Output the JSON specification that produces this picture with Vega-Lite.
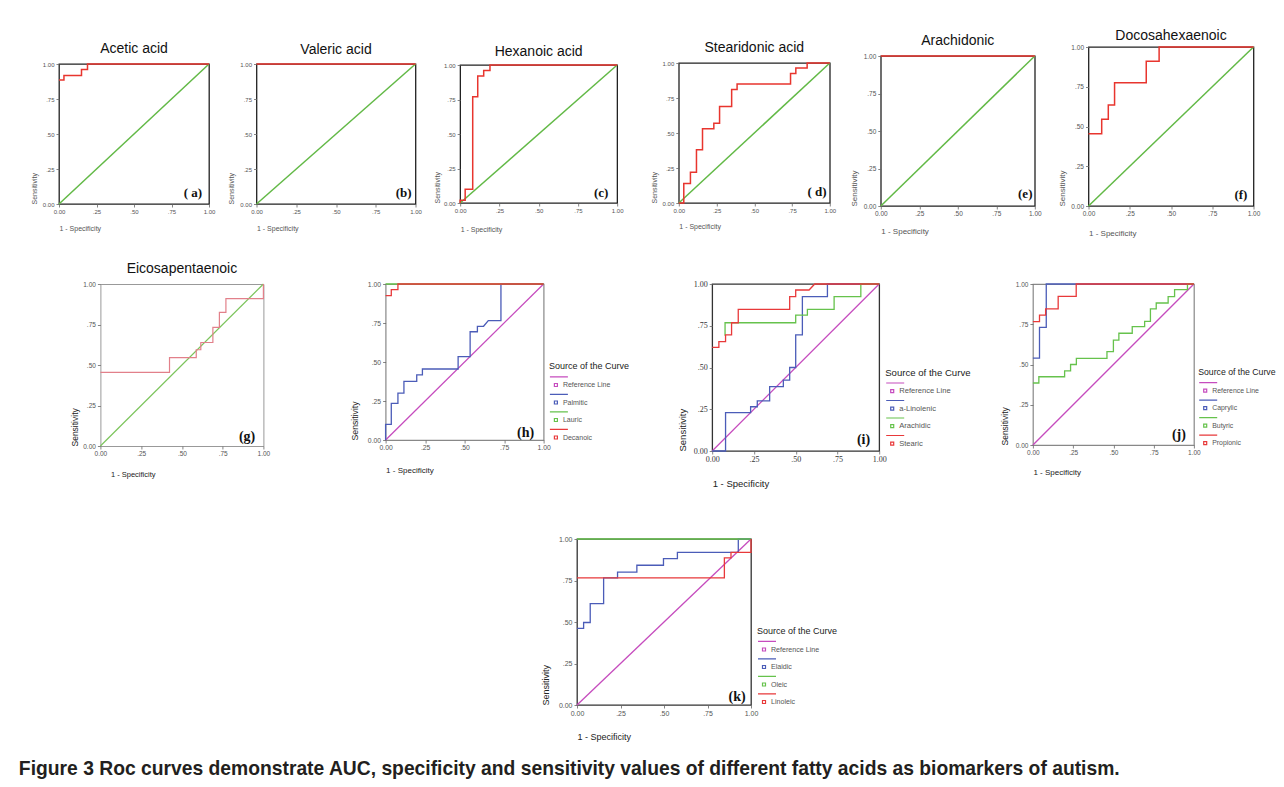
{
"$schema": "https://vega.github.io/schema/vega-lite/v6.json",
"background": "white",
"padding": {"left": 18, "top": 28, "right": 2, "bottom": 2},
"title": {"text": "Figure 3 Roc curves demonstrate AUC, specificity and sensitivity values of different fatty acids as biomarkers of autism.", "orient": "bottom", "anchor": "start", "fontSize": 19.3, "font": "Liberation Sans", "fontWeight": "bold", "color": "#231f20", "offset": 18, "dx": -11},
"config": {
 "font": "Liberation Sans",
 "view": {"stroke": "#222", "strokeWidth": 1.3},
 "axis": {"grid": false, "domain": false, "labelFlush": false, "labelOverlap": false, "labelBound": false, "tickCount": 10,
   "labelExpr": "datum.value == 0 ? '0.00' : datum.value == 1 ? '1.00' : datum.value == 0.25 ? '.25' : datum.value == 0.5 ? '.50' : '.75'",
   "labelFont": "Liberation Sans", "labelFontSize": 6, "labelColor": "#555", "labelPadding": 1, "tickSize": 3, "tickColor": "#666", "tickWidth": 0.8,
   "titleFont": "Liberation Sans", "titleFontWeight": "normal", "titleFontSize": 7, "titleColor": "#555"},
 "axisX": {"titleAnchor": "start", "titleAlign": "left", "labelAngle": 0},
 "axisY": {"titleAnchor": "start", "labelPadding": 2},
 "title": {"fontSize": 14, "fontWeight": "normal", "font": "Liberation Sans", "color": "#111", "anchor": "middle"},
 "legend": {"titleFontWeight": "normal", "titleColor": "#222", "titleFont": "Liberation Sans", "labelFont": "Liberation Sans", "labelColor": "#555", "symbolType": "M-1,-1.35H2M-0.25,-0.25H0.25V0.25H-0.25Z", "symbolSize": 144, "symbolStrokeWidth": 1.2, "labelOffset": 0, "rowPadding": 2.5, "titlePadding": 7, "padding": 0}
},
"datasets": {
 "a": [{"s":"ref","o":0,"x":0,"y":0},{"s":"ref","o":1,"x":1,"y":1},
  {"s":"roc","o":0,"x":0,"y":0.885},{"s":"roc","o":1,"x":0.033,"y":0.885},{"s":"roc","o":2,"x":0.033,"y":0.917},{"s":"roc","o":3,"x":0.15,"y":0.917},{"s":"roc","o":4,"x":0.15,"y":0.96},{"s":"roc","o":5,"x":0.19,"y":0.96},{"s":"roc","o":6,"x":0.19,"y":1},{"s":"roc","o":7,"x":1,"y":1}],
 "b": [{"s":"ref","o":0,"x":0,"y":0},{"s":"ref","o":1,"x":1,"y":1},
  {"s":"roc","o":0,"x":0,"y":1},{"s":"roc","o":1,"x":1,"y":1}],
 "c": [{"s":"ref","o":0,"x":0,"y":0},{"s":"ref","o":1,"x":1,"y":1},
  {"s":"roc","o":0,"x":0,"y":0},{"s":"roc","o":1,"x":0,"y":0.02},{"s":"roc","o":2,"x":0.032,"y":0.02},{"s":"roc","o":3,"x":0.032,"y":0.1},{"s":"roc","o":4,"x":0.08,"y":0.1},{"s":"roc","o":5,"x":0.08,"y":0.77},{"s":"roc","o":6,"x":0.112,"y":0.77},{"s":"roc","o":7,"x":0.112,"y":0.92},{"s":"roc","o":8,"x":0.15,"y":0.92},{"s":"roc","o":9,"x":0.15,"y":0.96},{"s":"roc","o":10,"x":0.19,"y":0.96},{"s":"roc","o":11,"x":0.19,"y":1},{"s":"roc","o":12,"x":1,"y":1}],
 "d": [{"s":"ref","o":0,"x":0,"y":0},{"s":"ref","o":1,"x":1,"y":1},
  {"s":"roc","o":0,"x":0,"y":0},{"s":"roc","o":1,"x":0.033,"y":0},{"s":"roc","o":2,"x":0.033,"y":0.14},{"s":"roc","o":3,"x":0.077,"y":0.14},{"s":"roc","o":4,"x":0.077,"y":0.22},{"s":"roc","o":5,"x":0.117,"y":0.22},{"s":"roc","o":6,"x":0.117,"y":0.38},{"s":"roc","o":7,"x":0.157,"y":0.38},{"s":"roc","o":8,"x":0.157,"y":0.53},{"s":"roc","o":9,"x":0.232,"y":0.53},{"s":"roc","o":10,"x":0.232,"y":0.57},{"s":"roc","o":11,"x":0.27,"y":0.57},{"s":"roc","o":12,"x":0.27,"y":0.69},{"s":"roc","o":13,"x":0.35,"y":0.69},{"s":"roc","o":14,"x":0.35,"y":0.81},{"s":"roc","o":15,"x":0.386,"y":0.81},{"s":"roc","o":16,"x":0.386,"y":0.85},{"s":"roc","o":17,"x":0.74,"y":0.85},{"s":"roc","o":18,"x":0.74,"y":0.925},{"s":"roc","o":19,"x":0.775,"y":0.925},{"s":"roc","o":20,"x":0.775,"y":0.965},{"s":"roc","o":21,"x":0.85,"y":0.965},{"s":"roc","o":22,"x":0.85,"y":1},{"s":"roc","o":23,"x":1,"y":1}],
 "e": [{"s":"ref","o":0,"x":0,"y":0},{"s":"ref","o":1,"x":1,"y":1},
  {"s":"roc","o":0,"x":0,"y":1},{"s":"roc","o":1,"x":1,"y":1}],
 "f": [{"s":"ref","o":0,"x":0,"y":0},{"s":"ref","o":1,"x":1,"y":1},
  {"s":"roc","o":0,"x":0,"y":0.455},{"s":"roc","o":1,"x":0.08,"y":0.455},{"s":"roc","o":2,"x":0.08,"y":0.545},{"s":"roc","o":3,"x":0.12,"y":0.545},{"s":"roc","o":4,"x":0.12,"y":0.635},{"s":"roc","o":5,"x":0.158,"y":0.635},{"s":"roc","o":6,"x":0.158,"y":0.775},{"s":"roc","o":7,"x":0.35,"y":0.775},{"s":"roc","o":8,"x":0.35,"y":0.91},{"s":"roc","o":9,"x":0.428,"y":0.91},{"s":"roc","o":10,"x":0.428,"y":1},{"s":"roc","o":11,"x":1,"y":1}],
 "g": [{"s":"ref","o":0,"x":0,"y":0},{"s":"ref","o":1,"x":1,"y":1},
  {"s":"roc","o":0,"x":0,"y":0.455},{"s":"roc","o":1,"x":0.424,"y":0.455},{"s":"roc","o":2,"x":0.424,"y":0.546},{"s":"roc","o":3,"x":0.588,"y":0.546},{"s":"roc","o":4,"x":0.588,"y":0.594},{"s":"roc","o":5,"x":0.616,"y":0.594},{"s":"roc","o":6,"x":0.616,"y":0.639},{"s":"roc","o":7,"x":0.69,"y":0.639},{"s":"roc","o":8,"x":0.69,"y":0.732},{"s":"roc","o":9,"x":0.73,"y":0.732},{"s":"roc","o":10,"x":0.73,"y":0.825},{"s":"roc","o":11,"x":0.77,"y":0.825},{"s":"roc","o":12,"x":0.77,"y":0.91},{"s":"roc","o":13,"x":1,"y":0.91},{"s":"roc","o":14,"x":1,"y":1}],
 "h": [{"s":"Reference Line","o":0,"x":0,"y":0},{"s":"Reference Line","o":1,"x":1,"y":1},
  {"s":"Palmitic","o":0,"x":0,"y":0},{"s":"Palmitic","o":1,"x":0,"y":0.1},{"s":"Palmitic","o":2,"x":0.036,"y":0.1},{"s":"Palmitic","o":3,"x":0.036,"y":0.235},{"s":"Palmitic","o":4,"x":0.078,"y":0.235},{"s":"Palmitic","o":5,"x":0.078,"y":0.3},{"s":"Palmitic","o":6,"x":0.116,"y":0.3},{"s":"Palmitic","o":7,"x":0.116,"y":0.376},{"s":"Palmitic","o":8,"x":0.197,"y":0.376},{"s":"Palmitic","o":9,"x":0.197,"y":0.417},{"s":"Palmitic","o":10,"x":0.233,"y":0.417},{"s":"Palmitic","o":11,"x":0.233,"y":0.455},{"s":"Palmitic","o":12,"x":0.459,"y":0.455},{"s":"Palmitic","o":13,"x":0.459,"y":0.534},{"s":"Palmitic","o":14,"x":0.535,"y":0.534},{"s":"Palmitic","o":15,"x":0.535,"y":0.694},{"s":"Palmitic","o":16,"x":0.581,"y":0.694},{"s":"Palmitic","o":17,"x":0.581,"y":0.729},{"s":"Palmitic","o":18,"x":0.62,"y":0.729},{"s":"Palmitic","o":19,"x":0.65,"y":0.765},{"s":"Palmitic","o":20,"x":0.73,"y":0.765},{"s":"Palmitic","o":21,"x":0.73,"y":1},{"s":"Palmitic","o":22,"x":1,"y":1},
  {"s":"Lauric","o":0,"x":0,"y":1},{"s":"Lauric","o":1,"x":1,"y":1},
  {"s":"Decanoic","o":0,"x":0,"y":0.925},{"s":"Decanoic","o":1,"x":0.036,"y":0.925},{"s":"Decanoic","o":2,"x":0.036,"y":0.964},{"s":"Decanoic","o":3,"x":0.078,"y":0.964},{"s":"Decanoic","o":4,"x":0.078,"y":1},{"s":"Decanoic","o":5,"x":1,"y":1}],
 "i": [{"s":"Reference Line","o":0,"x":0,"y":0},{"s":"Reference Line","o":1,"x":1,"y":1},
  {"s":"a-Linolenic","o":0,"x":0,"y":0},{"s":"a-Linolenic","o":1,"x":0.08,"y":0},{"s":"a-Linolenic","o":2,"x":0.08,"y":0.23},{"s":"a-Linolenic","o":3,"x":0.23,"y":0.23},{"s":"a-Linolenic","o":4,"x":0.23,"y":0.265},{"s":"a-Linolenic","o":5,"x":0.27,"y":0.265},{"s":"a-Linolenic","o":6,"x":0.27,"y":0.3},{"s":"a-Linolenic","o":7,"x":0.344,"y":0.3},{"s":"a-Linolenic","o":8,"x":0.344,"y":0.385},{"s":"a-Linolenic","o":9,"x":0.426,"y":0.385},{"s":"a-Linolenic","o":10,"x":0.426,"y":0.425},{"s":"a-Linolenic","o":11,"x":0.464,"y":0.425},{"s":"a-Linolenic","o":12,"x":0.464,"y":0.5},{"s":"a-Linolenic","o":13,"x":0.5,"y":0.5},{"s":"a-Linolenic","o":14,"x":0.5,"y":0.695},{"s":"a-Linolenic","o":15,"x":0.54,"y":0.695},{"s":"a-Linolenic","o":16,"x":0.54,"y":0.924},{"s":"a-Linolenic","o":17,"x":0.69,"y":0.924},{"s":"a-Linolenic","o":18,"x":0.69,"y":1},{"s":"a-Linolenic","o":19,"x":1,"y":1},
  {"s":"Arachidic","o":0,"x":0.077,"y":0.69},{"s":"Arachidic","o":1,"x":0.077,"y":0.768},{"s":"Arachidic","o":2,"x":0.5,"y":0.768},{"s":"Arachidic","o":3,"x":0.5,"y":0.814},{"s":"Arachidic","o":4,"x":0.57,"y":0.814},{"s":"Arachidic","o":5,"x":0.57,"y":0.848},{"s":"Arachidic","o":6,"x":0.73,"y":0.848},{"s":"Arachidic","o":7,"x":0.73,"y":0.924},{"s":"Arachidic","o":8,"x":0.89,"y":0.924},{"s":"Arachidic","o":9,"x":0.89,"y":1},{"s":"Arachidic","o":10,"x":1,"y":1},
  {"s":"Stearic","o":0,"x":0,"y":0.62},{"s":"Stearic","o":1,"x":0.04,"y":0.62},{"s":"Stearic","o":2,"x":0.04,"y":0.655},{"s":"Stearic","o":3,"x":0.08,"y":0.655},{"s":"Stearic","o":4,"x":0.08,"y":0.695},{"s":"Stearic","o":5,"x":0.116,"y":0.695},{"s":"Stearic","o":6,"x":0.116,"y":0.768},{"s":"Stearic","o":7,"x":0.156,"y":0.768},{"s":"Stearic","o":8,"x":0.156,"y":0.848},{"s":"Stearic","o":9,"x":0.464,"y":0.848},{"s":"Stearic","o":10,"x":0.464,"y":0.924},{"s":"Stearic","o":11,"x":0.5,"y":0.924},{"s":"Stearic","o":12,"x":0.5,"y":0.964},{"s":"Stearic","o":13,"x":0.58,"y":0.964},{"s":"Stearic","o":14,"x":0.614,"y":1},{"s":"Stearic","o":15,"x":1,"y":1}],
 "j": [{"s":"Reference Line","o":0,"x":0,"y":0},{"s":"Reference Line","o":1,"x":1,"y":1},
  {"s":"Caprylic","o":0,"x":0,"y":0.54},{"s":"Caprylic","o":1,"x":0.041,"y":0.54},{"s":"Caprylic","o":2,"x":0.041,"y":0.73},{"s":"Caprylic","o":3,"x":0.083,"y":0.73},{"s":"Caprylic","o":4,"x":0.083,"y":1},{"s":"Caprylic","o":5,"x":1,"y":1},
  {"s":"Butyric","o":0,"x":0,"y":0.385},{"s":"Butyric","o":1,"x":0.037,"y":0.385},{"s":"Butyric","o":2,"x":0.037,"y":0.424},{"s":"Butyric","o":3,"x":0.197,"y":0.424},{"s":"Butyric","o":4,"x":0.197,"y":0.46},{"s":"Butyric","o":5,"x":0.234,"y":0.46},{"s":"Butyric","o":6,"x":0.234,"y":0.5},{"s":"Butyric","o":7,"x":0.27,"y":0.5},{"s":"Butyric","o":8,"x":0.27,"y":0.538},{"s":"Butyric","o":9,"x":0.46,"y":0.538},{"s":"Butyric","o":10,"x":0.46,"y":0.58},{"s":"Butyric","o":11,"x":0.5,"y":0.58},{"s":"Butyric","o":12,"x":0.5,"y":0.652},{"s":"Butyric","o":13,"x":0.534,"y":0.652},{"s":"Butyric","o":14,"x":0.534,"y":0.694},{"s":"Butyric","o":15,"x":0.617,"y":0.694},{"s":"Butyric","o":16,"x":0.617,"y":0.735},{"s":"Butyric","o":17,"x":0.694,"y":0.735},{"s":"Butyric","o":18,"x":0.694,"y":0.768},{"s":"Butyric","o":19,"x":0.73,"y":0.768},{"s":"Butyric","o":20,"x":0.73,"y":0.845},{"s":"Butyric","o":21,"x":0.766,"y":0.845},{"s":"Butyric","o":22,"x":0.766,"y":0.882},{"s":"Butyric","o":23,"x":0.84,"y":0.882},{"s":"Butyric","o":24,"x":0.84,"y":0.921},{"s":"Butyric","o":25,"x":0.88,"y":0.921},{"s":"Butyric","o":26,"x":0.88,"y":0.965},{"s":"Butyric","o":27,"x":0.96,"y":0.965},{"s":"Butyric","o":28,"x":0.96,"y":1},{"s":"Butyric","o":29,"x":1,"y":1},
  {"s":"Propionic","o":0,"x":0,"y":0.766},{"s":"Propionic","o":1,"x":0.041,"y":0.766},{"s":"Propionic","o":2,"x":0.041,"y":0.807},{"s":"Propionic","o":3,"x":0.079,"y":0.807},{"s":"Propionic","o":4,"x":0.079,"y":0.845},{"s":"Propionic","o":5,"x":0.157,"y":0.845},{"s":"Propionic","o":6,"x":0.157,"y":0.923},{"s":"Propionic","o":7,"x":0.269,"y":0.923},{"s":"Propionic","o":8,"x":0.269,"y":1},{"s":"Propionic","o":9,"x":1,"y":1}],
 "k": [{"s":"Reference Line","o":0,"x":0,"y":0},{"s":"Reference Line","o":1,"x":1,"y":1},
  {"s":"Elaidic","o":0,"x":0,"y":0.461},{"s":"Elaidic","o":1,"x":0.038,"y":0.461},{"s":"Elaidic","o":2,"x":0.038,"y":0.497},{"s":"Elaidic","o":3,"x":0.076,"y":0.497},{"s":"Elaidic","o":4,"x":0.076,"y":0.611},{"s":"Elaidic","o":5,"x":0.153,"y":0.611},{"s":"Elaidic","o":6,"x":0.153,"y":0.766},{"s":"Elaidic","o":7,"x":0.233,"y":0.766},{"s":"Elaidic","o":8,"x":0.233,"y":0.8},{"s":"Elaidic","o":9,"x":0.344,"y":0.8},{"s":"Elaidic","o":10,"x":0.344,"y":0.842},{"s":"Elaidic","o":11,"x":0.497,"y":0.842},{"s":"Elaidic","o":12,"x":0.497,"y":0.882},{"s":"Elaidic","o":13,"x":0.577,"y":0.882},{"s":"Elaidic","o":14,"x":0.577,"y":0.92},{"s":"Elaidic","o":15,"x":0.927,"y":0.92},{"s":"Elaidic","o":16,"x":0.927,"y":1},{"s":"Elaidic","o":17,"x":1,"y":1},
  {"s":"Oleic","o":0,"x":0,"y":1},{"s":"Oleic","o":1,"x":1,"y":1},
  {"s":"Linoleic","o":0,"x":0,"y":0.766},{"s":"Linoleic","o":1,"x":0.847,"y":0.766},{"s":"Linoleic","o":2,"x":0.847,"y":0.886},{"s":"Linoleic","o":3,"x":0.885,"y":0.886},{"s":"Linoleic","o":4,"x":0.885,"y":0.92},{"s":"Linoleic","o":5,"x":1,"y":0.92},{"s":"Linoleic","o":6,"x":1,"y":1}]
},
"spacing": 23,
"resolve": {"scale": {"color": "independent"}, "legend": {"color": "independent"}},
"vconcat": [
 {"spacing": 9.5, "resolve": {"scale": {"color": "independent"}, "legend": {"color": "independent"}}, "hconcat": [
  {"spacing": 0, "bounds": "flush", "resolve": {"scale": {"color": "independent"}, "legend": {"color": "independent"}}, "vconcat": [
   {"width": 1, "height": 17, "view": {"stroke": null}, "data": {"values": [{"t": ""}]}, "mark": {"type": "text"}, "encoding": {"text": {"field": "t"}}},
   {"width": 150, "height": 140, "title": {"text": "Acetic acid", "offset": 5},
    "layer": [
     {"data": {"name": "a"}, "mark": {"type": "line", "strokeWidth": 1.5},
      "encoding": {"x": {"field": "x", "type": "quantitative", "scale": {"domain": [0, 1], "nice": false, "zero": false}, "axis": {"values": [0, 0.25, 0.5, 0.75, 1], "tickCount": 10, "labelOverlap": false, "title": "1 - Specificity", "titlePadding": 10.5}},
       "y": {"field": "y", "type": "quantitative", "scale": {"domain": [0, 1], "nice": false, "zero": false}, "axis": {"values": [0, 0.25, 0.5, 0.75, 1], "tickCount": 10, "labelOverlap": false, "title": "Sensitivity", "titlePadding": 4.8}},
       "color": {"field": "s", "type": "nominal", "scale": {"domain": ["ref", "roc"], "range": ["#62b946", "#e8352e"]}, "legend": null},
       "order": {"field": "o", "type": "quantitative"}}},
     {"data": {"values": [{"t": "( a)"}]}, "mark": {"type": "text", "font": "Liberation Serif", "fontWeight": "bold", "fontSize": 13, "color": "#111"},
      "encoding": {"x": {"datum": 0.893}, "y": {"datum": 0.079}, "text": {"field": "t"}}}
    ]}
  ]},
  {"spacing": 9.65, "resolve": {"scale": {"color": "independent"}, "legend": {"color": "independent"}}, "hconcat": [
   {"spacing": 0, "bounds": "flush", "resolve": {"scale": {"color": "independent"}, "legend": {"color": "independent"}}, "vconcat": [
    {"width": 1, "height": 17, "view": {"stroke": null}, "data": {"values": [{"t": ""}]}, "mark": {"type": "text"}, "encoding": {"text": {"field": "t"}}},
    {"width": 159, "height": 140, "title": {"text": "Valeric acid", "offset": 4.5},
     "layer": [
      {"data": {"name": "b"}, "mark": {"type": "line", "strokeWidth": 1.5},
       "encoding": {"x": {"field": "x", "type": "quantitative", "scale": {"domain": [0, 1], "nice": false, "zero": false}, "axis": {"values": [0, 0.25, 0.5, 0.75, 1], "tickCount": 10, "labelOverlap": false, "title": "1 - Specificity", "titlePadding": 10}},
        "y": {"field": "y", "type": "quantitative", "scale": {"domain": [0, 1], "nice": false, "zero": false}, "axis": {"values": [0, 0.25, 0.5, 0.75, 1], "tickCount": 10, "labelOverlap": false, "title": "Sensitivity", "titlePadding": 5.8}},
        "color": {"field": "s", "type": "nominal", "scale": {"domain": ["ref", "roc"], "range": ["#62b946", "#e8352e"]}, "legend": null},
        "order": {"field": "o", "type": "quantitative"}}},
      {"data": {"values": [{"t": "(b)"}]}, "mark": {"type": "text", "font": "Liberation Serif", "fontWeight": "bold", "fontSize": 13, "color": "#111"},
       "encoding": {"x": {"datum": 0.925}, "y": {"datum": 0.079}, "text": {"field": "t"}}}
     ]}
   ]},
   {"spacing": 24.65, "resolve": {"scale": {"color": "independent"}, "legend": {"color": "independent"}}, "hconcat": [
    {"spacing": 0, "bounds": "flush", "resolve": {"scale": {"color": "independent"}, "legend": {"color": "independent"}}, "vconcat": [
     {"width": 1, "height": 18, "view": {"stroke": null}, "data": {"values": [{"t": ""}]}, "mark": {"type": "text"}, "encoding": {"text": {"field": "t"}}},
     {"width": 157, "height": 138, "title": {"text": "Hexanoic acid", "offset": 3},
      "layer": [
       {"data": {"name": "c"}, "mark": {"type": "line", "strokeWidth": 1.5},
        "encoding": {"x": {"field": "x", "type": "quantitative", "scale": {"domain": [0, 1], "nice": false, "zero": false}, "axis": {"values": [0, 0.25, 0.5, 0.75, 1], "tickCount": 10, "labelOverlap": false, "title": "1 - Specificity", "titlePadding": 12.5}},
         "y": {"field": "y", "type": "quantitative", "scale": {"domain": [0, 1], "nice": false, "zero": false}, "axis": {"values": [0, 0.25, 0.5, 0.75, 1], "tickCount": 10, "labelOverlap": false, "title": "Sensitivity", "titlePadding": 2.8}},
         "color": {"field": "s", "type": "nominal", "scale": {"domain": ["ref", "roc"], "range": ["#62b946", "#e8352e"]}, "legend": null},
         "order": {"field": "o", "type": "quantitative"}}},
       {"data": {"values": [{"t": "(c)"}]}, "mark": {"type": "text", "font": "Liberation Serif", "fontWeight": "bold", "fontSize": 13, "color": "#111"},
        "encoding": {"x": {"datum": 0.898}, "y": {"datum": 0.072}, "text": {"field": "t"}}}
      ]}
    ]},
    {"spacing": 13, "resolve": {"scale": {"color": "independent"}, "legend": {"color": "independent"}}, "hconcat": [
     {"spacing": 0, "bounds": "flush", "resolve": {"scale": {"color": "independent"}, "legend": {"color": "independent"}}, "vconcat": [
      {"width": 1, "height": 16, "view": {"stroke": null}, "data": {"values": [{"t": ""}]}, "mark": {"type": "text"}, "encoding": {"text": {"field": "t"}}},
      {"width": 151, "height": 140, "title": {"text": "Stearidonic acid", "offset": 5},
       "layer": [
        {"data": {"name": "d"}, "mark": {"type": "line", "strokeWidth": 1.5},
         "encoding": {"x": {"field": "x", "type": "quantitative", "scale": {"domain": [0, 1], "nice": false, "zero": false}, "axis": {"values": [0, 0.25, 0.5, 0.75, 1], "tickCount": 10, "labelOverlap": false, "title": "1 - Specificity", "titlePadding": 9.5}},
          "y": {"field": "y", "type": "quantitative", "scale": {"domain": [0, 1], "nice": false, "zero": false}, "axis": {"values": [0, 0.25, 0.5, 0.75, 1], "tickCount": 10, "labelOverlap": false, "title": "Sensitivity", "titlePadding": 4.8}},
          "color": {"field": "s", "type": "nominal", "scale": {"domain": ["ref", "roc"], "range": ["#62b946", "#e8352e"]}, "legend": null},
          "order": {"field": "o", "type": "quantitative"}}},
        {"data": {"values": [{"t": "( d)"}]}, "mark": {"type": "text", "font": "Liberation Serif", "fontWeight": "bold", "fontSize": 13, "color": "#111"},
         "encoding": {"x": {"datum": 0.915}, "y": {"datum": 0.076}, "text": {"field": "t"}}}
       ]}
     ]},
     {"spacing": 15.7, "resolve": {"scale": {"color": "independent"}, "legend": {"color": "independent"}}, "hconcat": [
      {"spacing": 0, "bounds": "flush", "resolve": {"scale": {"color": "independent"}, "legend": {"color": "independent"}}, "vconcat": [
       {"width": 1, "height": 9, "view": {"stroke": null}, "data": {"values": [{"t": ""}]}, "mark": {"type": "text"}, "encoding": {"text": {"field": "t"}}},
       {"width": 154, "height": 150, "title": {"text": "Arachidonic", "offset": 5},
        "layer": [
         {"data": {"name": "e"}, "mark": {"type": "line", "strokeWidth": 1.5},
          "encoding": {"x": {"field": "x", "type": "quantitative", "scale": {"domain": [0, 1], "nice": false, "zero": false}, "axis": {"values": [0, 0.25, 0.5, 0.75, 1], "tickCount": 10, "labelOverlap": false, "title": "1 - Specificity", "titlePadding": 10.5, "labelFontSize": 6.5, "titleFontSize": 8}},
           "y": {"field": "y", "type": "quantitative", "scale": {"domain": [0, 1], "nice": false, "zero": false}, "axis": {"values": [0, 0.25, 0.5, 0.75, 1], "tickCount": 10, "labelOverlap": false, "title": "Sensitivity", "titlePadding": 4.4, "labelFontSize": 6.5, "titleFontSize": 8}},
           "color": {"field": "s", "type": "nominal", "scale": {"domain": ["ref", "roc"], "range": ["#62b946", "#e8352e"]}, "legend": null},
           "order": {"field": "o", "type": "quantitative"}}},
         {"data": {"values": [{"t": "(e)"}]}, "mark": {"type": "text", "font": "Liberation Serif", "fontWeight": "bold", "fontSize": 13, "color": "#111"},
          "encoding": {"x": {"datum": 0.938}, "y": {"datum": 0.08}, "text": {"field": "t"}}}
        ]}
      ]},
      {"width": 165, "height": 159, "title": {"text": "Docosahexaenoic", "offset": 1},
       "layer": [
        {"data": {"name": "f"}, "mark": {"type": "line", "strokeWidth": 1.5},
         "encoding": {"x": {"field": "x", "type": "quantitative", "scale": {"domain": [0, 1], "nice": false, "zero": false}, "axis": {"values": [0, 0.25, 0.5, 0.75, 1], "tickCount": 10, "labelOverlap": false, "title": "1 - Specificity", "titlePadding": 12.5, "labelFontSize": 6.5, "titleFontSize": 8}},
          "y": {"field": "y", "type": "quantitative", "scale": {"domain": [0, 1], "nice": false, "zero": false}, "axis": {"values": [0, 0.25, 0.5, 0.75, 1], "tickCount": 10, "labelOverlap": false, "title": "Sensitivity", "titlePadding": 4.4, "labelFontSize": 6.5, "titleFontSize": 8}},
          "color": {"field": "s", "type": "nominal", "scale": {"domain": ["ref", "roc"], "range": ["#62b946", "#e8352e"]}, "legend": null},
          "order": {"field": "o", "type": "quantitative"}}},
        {"data": {"values": [{"t": "(f)"}]}, "mark": {"type": "text", "font": "Liberation Serif", "fontWeight": "bold", "fontSize": 13, "color": "#111"},
         "encoding": {"x": {"datum": 0.924}, "y": {"datum": 0.07}, "text": {"field": "t"}}}
       ]}
     ]}
    ]}
   ]}
  ]}
 ]},
 {"spacing": 44, "resolve": {"scale": {"color": "independent"}, "legend": {"color": "independent"}}, "vconcat": [
  {"spacing": 9.4, "resolve": {"scale": {"color": "independent"}, "legend": {"color": "independent"}}, "hconcat": [
   {"width": 1, "height": 1, "view": {"stroke": null}, "data": {"values": [{"t": ""}]}, "mark": {"type": "text"}, "encoding": {"text": {"field": "t"}}},
   {"spacing": 78.2, "resolve": {"scale": {"color": "independent"}, "legend": {"color": "independent"}}, "hconcat": [
    {"width": 163, "height": 162, "title": {"text": "Eicosapentaenoic", "offset": 5}, "view": {"stroke": "#999", "strokeWidth": 1},
     "layer": [
      {"data": {"name": "g"}, "mark": {"type": "line", "strokeWidth": 1.2},
       "encoding": {"x": {"field": "x", "type": "quantitative", "scale": {"domain": [0, 1], "nice": false, "zero": false}, "axis": {"values": [0, 0.25, 0.5, 0.75, 1], "tickCount": 10, "labelOverlap": false, "title": "1 - Specificity", "titlePadding": 14, "labelFontSize": 6.5, "titleFontSize": 7.5, "titleX": 10, "titleColor": "#222"}},
        "y": {"field": "y", "type": "quantitative", "scale": {"domain": [0, 1], "nice": false, "zero": false}, "axis": {"values": [0, 0.25, 0.5, 0.75, 1], "tickCount": 10, "labelOverlap": false, "title": "Sensitivity", "titlePadding": 3, "labelFontSize": 6.5, "titleFontSize": 8.5, "titleColor": "#222"}},
        "color": {"field": "s", "type": "nominal", "scale": {"domain": ["ref", "roc"], "range": ["#7cc45c", "#e2808a"]}, "legend": null},
        "order": {"field": "o", "type": "quantitative"}}},
      {"data": {"values": [{"t": "(g)"}]}, "mark": {"type": "text", "font": "Liberation Serif", "fontWeight": "bold", "fontSize": 14, "color": "#111"},
       "encoding": {"x": {"datum": 0.9}, "y": {"datum": 0.057}, "text": {"field": "t"}}}
     ]},
    {"spacing": 45.6, "resolve": {"scale": {"color": "independent"}, "legend": {"color": "independent"}}, "hconcat": [
     {"width": 158, "height": 156, "view": {"stroke": "#888", "strokeWidth": 1.2},
      "layer": [
       {"data": {"name": "h"}, "mark": {"type": "line", "strokeWidth": 1.3},
        "encoding": {"x": {"field": "x", "type": "quantitative", "scale": {"domain": [0, 1], "nice": false, "zero": false}, "axis": {"values": [0, 0.25, 0.5, 0.75, 1], "tickCount": 10, "labelOverlap": false, "title": "1 - Specificity", "titlePadding": 15.9, "labelFontSize": 6.8, "titleFontSize": 8, "titleColor": "#222"}},
         "y": {"field": "y", "type": "quantitative", "scale": {"domain": [0, 1], "nice": false, "zero": false}, "axis": {"values": [0, 0.25, 0.5, 0.75, 1], "tickCount": 10, "labelOverlap": false, "title": "Sensitivity", "titlePadding": 8.3, "labelFontSize": 6.8, "titleFontSize": 8.7, "titleColor": "#222"}},
         "color": {"field": "s", "type": "nominal", "scale": {"domain": ["Reference Line", "Palmitic", "Lauric", "Decanoic"], "range": ["#c64cbe", "#4b5cb8", "#66c24c", "#e8393a"]},
          "legend": {"title": "Source of the Curve", "orient": "none", "legendX": 163.3, "legendY": 78, "titleFontSize": 9, "labelFontSize": 7}},
         "order": {"field": "o", "type": "quantitative"}}},
       {"data": {"values": [{"t": "(h)"}]}, "mark": {"type": "text", "font": "Liberation Serif", "fontWeight": "bold", "fontSize": 14, "color": "#111"},
        "encoding": {"x": {"datum": 0.886}, "y": {"datum": 0.045}, "text": {"field": "t"}}}
      ]},
     {"spacing": 27.7, "resolve": {"scale": {"color": "independent"}, "legend": {"color": "independent"}}, "hconcat": [
      {"width": 167, "height": 167, "view": {"stroke": "#333", "strokeWidth": 1.3},
       "layer": [
        {"data": {"name": "i"}, "mark": {"type": "line", "strokeWidth": 1.3},
         "encoding": {"x": {"field": "x", "type": "quantitative", "scale": {"domain": [0, 1], "nice": false, "zero": false}, "axis": {"values": [0, 0.25, 0.5, 0.75, 1], "tickCount": 10, "labelOverlap": false, "title": "1 - Specificity", "titlePadding": 15.5, "labelFontSize": 8, "labelFont": "Liberation Serif", "labelColor": "#333", "titleFontSize": 9.5, "titleColor": "#222"}},
          "y": {"field": "y", "type": "quantitative", "scale": {"domain": [0, 1], "nice": false, "zero": false}, "axis": {"values": [0, 0.25, 0.5, 0.75, 1], "tickCount": 10, "labelOverlap": false, "title": "Sensitivity", "titlePadding": 6, "labelFontSize": 8, "labelFont": "Liberation Serif", "labelColor": "#333", "titleFontSize": 9.5, "titleColor": "#222"}},
          "color": {"field": "s", "type": "nominal", "scale": {"domain": ["Reference Line", "a-Linolenic", "Arachidic", "Stearic"], "range": ["#c64cbe", "#4b5cb8", "#66c24c", "#e8393a"]},
           "legend": {"title": "Source of the Curve", "orient": "none", "legendX": 173, "legendY": 83.5, "titleFontSize": 9.6, "labelFontSize": 7.6}},
          "order": {"field": "o", "type": "quantitative"}}},
        {"data": {"values": [{"t": "(i)"}]}, "mark": {"type": "text", "font": "Liberation Serif", "fontWeight": "bold", "fontSize": 14, "color": "#111"},
         "encoding": {"x": {"datum": 0.906}, "y": {"datum": 0.066}, "text": {"field": "t"}}}
       ]},
      {"width": 161, "height": 161, "view": {"stroke": "#888", "strokeWidth": 1.2},
       "layer": [
        {"data": {"name": "j"}, "mark": {"type": "line", "strokeWidth": 1.3},
         "encoding": {"x": {"field": "x", "type": "quantitative", "scale": {"domain": [0, 1], "nice": false, "zero": false}, "axis": {"values": [0, 0.25, 0.5, 0.75, 1], "tickCount": 10, "labelOverlap": false, "title": "1 - Specificity", "titlePadding": 12.8, "labelFontSize": 6.5, "titleFontSize": 8, "titleColor": "#222"}},
          "y": {"field": "y", "type": "quantitative", "scale": {"domain": [0, 1], "nice": false, "zero": false}, "axis": {"values": [0, 0.25, 0.5, 0.75, 1], "tickCount": 10, "labelOverlap": false, "title": "Sensitivity", "titlePadding": 5.5, "labelFontSize": 6.5, "titleFontSize": 8.5, "titleColor": "#222"}},
          "color": {"field": "s", "type": "nominal", "scale": {"domain": ["Reference Line", "Caprylic", "Butyric", "Propionic"], "range": ["#c64cbe", "#4b5cb8", "#66c24c", "#e8393a"]},
           "legend": {"title": "Source of the Curve", "orient": "none", "legendX": 165.3, "legendY": 84, "titleFontSize": 8.7, "labelFontSize": 6.9}},
          "order": {"field": "o", "type": "quantitative"}}},
        {"data": {"values": [{"t": "(j)"}]}, "mark": {"type": "text", "font": "Liberation Serif", "fontWeight": "bold", "fontSize": 14, "color": "#111"},
         "encoding": {"x": {"datum": 0.907}, "y": {"datum": 0.062}, "text": {"field": "t"}}}
       ]}
     ]}
    ]}
   ]}
  ]},
  {"spacing": 481, "resolve": {"scale": {"color": "independent"}, "legend": {"color": "independent"}}, "hconcat": [
   {"width": 1, "height": 1, "view": {"stroke": null}, "data": {"values": [{"t": ""}]}, "mark": {"type": "text"}, "encoding": {"text": {"field": "t"}}},
   {"width": 174, "height": 166, "view": {"stroke": "#333", "strokeWidth": 1.3},
    "layer": [
     {"data": {"name": "k"}, "mark": {"type": "line", "strokeWidth": 1.3},
      "encoding": {"x": {"field": "x", "type": "quantitative", "scale": {"domain": [0, 1], "nice": false, "zero": false}, "axis": {"values": [0, 0.25, 0.5, 0.75, 1], "tickCount": 10, "labelOverlap": false, "title": "1 - Specificity", "titlePadding": 16, "labelFontSize": 7, "titleFontSize": 9, "titleColor": "#222"}},
       "y": {"field": "y", "type": "quantitative", "scale": {"domain": [0, 1], "nice": false, "zero": false}, "axis": {"values": [0, 0.25, 0.5, 0.75, 1], "tickCount": 10, "labelOverlap": false, "title": "Sensitivity", "titlePadding": 7.6, "labelFontSize": 7, "titleFontSize": 9, "titleColor": "#222"}},
       "color": {"field": "s", "type": "nominal", "scale": {"domain": ["Reference Line", "Elaidic", "Oleic", "Linoleic"], "range": ["#c64cbe", "#4b5cb8", "#66c24c", "#e8393a"]},
        "legend": {"title": "Source of the Curve", "orient": "none", "legendX": 180, "legendY": 87.5, "titleFontSize": 9, "labelFontSize": 7.1}},
       "order": {"field": "o", "type": "quantitative"}}},
     {"data": {"values": [{"t": "(k)"}]}, "mark": {"type": "text", "font": "Liberation Serif", "fontWeight": "bold", "fontSize": 14, "color": "#111"},
      "encoding": {"x": {"datum": 0.92}, "y": {"datum": 0.05}, "text": {"field": "t"}}}
    ]}
  ]}
 ]}
]
}
